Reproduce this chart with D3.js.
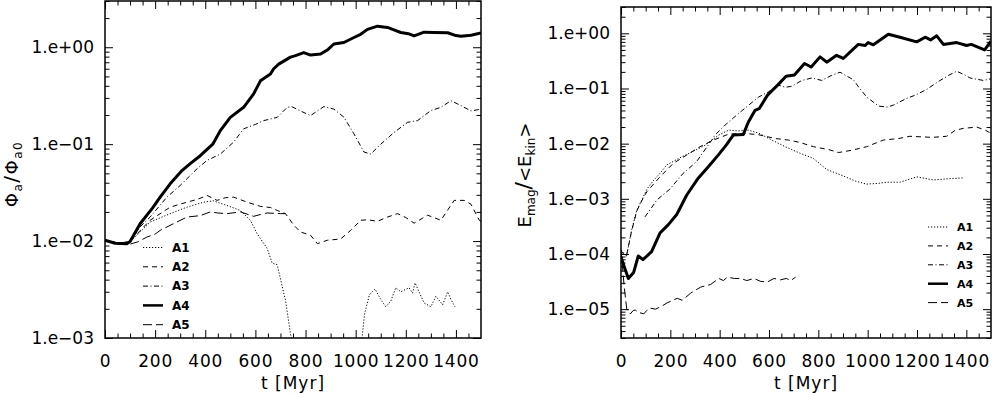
<!DOCTYPE html>
<html>
<head>
<meta charset="utf-8">
<script src="https://cdn.jsdelivr.net/npm/d3@7"></script>
<style>
body { margin: 0; background: #fff; }
svg text { font-family: "DejaVu Sans", sans-serif; fill: #000; }
</style>
</head>
<body>
<svg id="chart" width="992" height="394"></svg>
<script>
// time in Myr
var xTicks = [0, 200, 400, 600, 800, 1000, 1200, 1400];
var leftTicks = [1e-3, 1e-2, 1e-1, 1];
var rightTicks = [1e-5, 1e-4, 1e-3, 1e-2, 1e-1, 1];
var runNames = ["A1", "A2", "A3", "A4", "A5"];

// left panel: Phi_a / Phi_a0
var phiA1 = [[0,0.0102],[60,0.0095],[100,0.0098],[180,0.0157],[260,0.0192],[327,0.0224],[393,0.0252],[433,0.026],
  [487,0.0233],[540,0.0207],[580,0.0164],[607,0.0119],[647,0.0084],[667,0.0059],[687,0.0057],[707,0.0034],
  [720,0.00246],[740,0.0011],[750,0.00085],[900,null],
  [1020,0.0008],[1027,0.0011],[1036,0.0018],[1055,0.0028],[1077,0.0032],[1100,0.0025],[1120,0.0021],[1140,0.0024],
  [1160,0.0033],[1180,0.003],[1213,0.0033],[1227,0.0029],[1237,0.0037],[1255,0.0029],[1273,0.0023],[1300,0.0021],
  [1320,0.0027],[1347,0.0022],[1367,0.003],[1380,0.0025],[1396,0.0021]];
var phiA2 = [[0,0.0102],[60,0.0095],[100,0.0100],[180,0.0164],[260,0.0224],[327,0.0252],[370,0.027],[407,0.0296],
  [447,0.0263],[480,0.028],[513,0.0284],[567,0.0252],[620,0.0228],[660,0.0222],[687,0.0207],[720,0.0192],
  [753,0.0146],[780,0.0124],[820,0.0115],[847,0.0094],[887,0.0102],[940,0.0105],[980,0.0129],[1020,0.0164],
  [1047,0.0166],[1087,0.016],[1127,0.0177],[1167,0.0192],[1200,0.0175],[1233,0.0153],[1287,0.0185],[1340,0.0164],
  [1393,0.0263],[1433,0.0263],[1460,0.024],[1493,0.0164],[1500,0.0160]];
var phiA3 = [[0,0.0102],[40,0.0096],[60,0.0093],[100,0.0098],[140,0.014],[180,0.0177],[247,0.0284],[300,0.0375],
  [367,0.0557],[407,0.068],[460,0.079],[513,0.105],[553,0.144],[600,0.16],[633,0.175],[687,0.189],[727,0.24],
  [745,0.244],[780,0.22],[820,0.197],[873,0.244],[913,0.23],[953,0.19],[993,0.128],[1033,0.083],[1060,0.079],
  [1100,0.1],[1153,0.132],[1207,0.168],[1247,0.175],[1300,0.222],[1340,0.24],[1380,0.281],[1420,0.25],
  [1460,0.22],[1500,0.23]];
var phiA4 = [[0,0.0102],[40,0.0095],[87,0.0094],[100,0.0099],[140,0.0151],[190,0.022],[220,0.0284],[260,0.039],
  [307,0.0534],[340,0.063],[380,0.076],[430,0.1],[460,0.138],[500,0.189],[553,0.24],[593,0.33],[620,0.45],
  [660,0.53],[673,0.6],[693,0.67],[740,0.79],[760,0.82],[793,0.88],[820,0.83],[860,0.85],[890,0.95],[913,1.08],
  [953,1.12],[993,1.26],[1020,1.36],[1047,1.53],[1087,1.65],[1127,1.6],[1150,1.52],[1180,1.42],[1210,1.38],
  [1233,1.31],[1273,1.43],[1313,1.42],[1367,1.41],[1400,1.32],[1420,1.3],[1460,1.33],[1500,1.40]];
var phiA5 = [[0,0.0102],[30,0.0098],[60,0.0092],[100,0.0093],[130,0.0098],[167,0.011],[200,0.0118],[220,0.0129],
  [273,0.0151],[327,0.0177],[380,0.0183],[420,0.020],[450,0.0195],[487,0.0192],[540,0.020],[593,0.018],
  [620,0.0188],[647,0.0195],[700,0.0192],[720,0.0192]];

// right panel: E_mag / <E_kin>
var emA1 = [[0,1.2e-4],[10,1.05e-4],[22,9e-5],[43,2.7e-4],[64,6.2e-4],[84,9.5e-4],[105,1.5e-3],[130,2.1e-3],
  [158,2.9e-3],[185,4.1e-3],[234,5.4e-3],[288,7.1e-3],[342,9.4e-3],[396,0.0143],[437,0.0176],[477,0.017],
  [518,0.0176],[558,0.0155],[612,0.0116],[666,0.0088],[726,0.0067],[780,0.0054],[834,0.0034],[901,0.0026],
  [950,0.0021],[996,0.00185],[1040,0.0019],[1077,0.0020],[1131,0.0020],[1199,0.0025],[1266,0.0022],
  [1320,0.0023],[1388,0.0024]];
var emA2 = [[0,1.15e-4],[10,1.0e-4],[22,9.2e-5],[43,2.6e-4],[64,6.0e-4],[84,9.2e-4],[105,1.35e-3],[158,2.5e-3],
  [212,4.4e-3],[266,6.2e-3],[320,8.8e-3],[374,0.0116],[437,0.0149],[504,0.0153],[558,0.0145],[625,0.0124],
  [680,0.0116],[726,0.0105],[780,0.0088],[842,0.0078],[882,0.0069],[936,0.0076],[996,0.0088],[1063,0.0116],
  [1126,0.0124],[1171,0.0136],[1262,0.013],[1320,0.0136],[1356,0.0176],[1388,0.0189],[1442,0.020],
  [1477,0.0176],[1500,0.0153]];
var emA3 = [[97,4.7e-4],[120,6.5e-4],[145,9.5e-4],[198,1.5e-3],[252,2.9e-3],[306,4.7e-3],[368,0.0116],
  [381,0.0143],[422,0.0217],[476,0.035],[518,0.05],[558,0.07],[598,0.087],[639,0.115],[666,0.105],[693,0.11],
  [733,0.14],[774,0.155],[814,0.14],[855,0.174],[888,0.197],[942,0.144],[963,0.107],[996,0.07],[1044,0.048],
  [1080,0.046],[1104,0.05],[1158,0.066],[1194,0.076],[1239,0.096],[1288,0.135],[1329,0.174],[1361,0.205],
  [1396,0.174],[1415,0.155],[1469,0.14],[1500,0.15]];
var emA4 = [[0,8.9e-5],[13,5.9e-5],[30,3.6e-5],[51,4.6e-5],[70,9.2e-5],[89,7.9e-5],[124,1.1e-4],[158,2.4e-4],
  [192,3.4e-4],[226,5.2e-4],[266,1.16e-3],[313,2.37e-3],[354,3.8e-3],[394,6.2e-3],[428,9.6e-3],[455,0.0143],
  [496,0.0147],[516,0.0244],[543,0.040],[560,0.043],[594,0.0757],[635,0.115],[669,0.167],[703,0.175],
  [744,0.284],[771,0.245],[807,0.374],[834,0.30],[874,0.40],[901,0.35],[962,0.63],[990,0.6],[1002,0.68],
  [1023,0.62],[1084,0.96],[1131,0.85],[1199,0.70],[1233,0.85],[1255,0.76],[1280,0.90],[1307,0.63],
  [1361,0.68],[1401,0.60],[1420,0.63],[1474,0.50],[1500,0.72]];
var emA5 = [[0,1.2e-4],[6,6e-5],[13,2.5e-5],[24,9.6e-6],[38,8.2e-6],[50,9.5e-6],[58,9.6e-6],[70,8.8e-6],
  [92,8.2e-6],[105,9.5e-6],[119,1.04e-5],[140,1.0e-5],[160,1.1e-5],[187,1.3e-5],[210,1.45e-5],[228,1.57e-5],
  [248,1.45e-5],[282,1.94e-5],[322,2.5e-5],[363,2.8e-5],[397,3.6e-5],[415,3.3e-5],[431,3.8e-5],[460,3.6e-5],
  [485,3.6e-5],[510,3.3e-5],[539,3.6e-5],[565,3.2e-5],[593,3.1e-5],[620,3.6e-5],[647,3.4e-5],[670,3.6e-5],
  [688,3.3e-5],[708,3.8e-5]];

// line styles per run
var styles = [
  { dash: "1.2,1.8", width: 1 },
  { dash: "5,4", width: 1 },
  { dash: "5,2.5,1,2.5", width: 1 },
  { dash: null, width: 3 },
  { dash: "9,4", width: 1 }
];

var svg = d3.select("#chart");

function fmtExp(v) {
  var e = Math.round(Math.log10(v));
  return "1.e" + (e < 0 ? "\u2212" : "+") + String(Math.abs(e)).padStart(2, "0");
}

function drawPanel(p) {
  var w = p.x1 - p.x0, h = p.y1 - p.y0;
  var x = d3.scaleLinear().domain([0, 1500]).range([0, w]);
  var y = d3.scaleLog().domain(p.yDomain).range([h, 0]);
  var g = svg.append("g").attr("transform", `translate(${p.x0},${p.y0})`);

  var clipId = "clip" + p.id;
  g.append("clipPath").attr("id", clipId)
    .append("rect").attr("width", w).attr("height", h);

  var line = d3.line()
    .defined(d => d[1] != null)
    .x(d => x(d[0]))
    .y(d => y(d[1]));

  var plot = g.append("g").attr("clip-path", `url(#${clipId})`);
  p.series.forEach(function(s, i) {
    plot.append("path")
      .datum(s)
      .attr("d", line)
      .attr("fill", "none")
      .attr("stroke", "#000")
      .attr("stroke-width", styles[i].width)
      .attr("stroke-linejoin", "round")
      .attr("stroke-dasharray", styles[i].dash);
  });

  // ticks, IDL style: inward on all four sides
  var yMinor = y.ticks().filter(v => Math.abs(Math.log10(v) - Math.round(Math.log10(v))) > 1e-6);
  var xMinor = d3.range(50, 1500, 50).filter(v => v % 200 !== 0);
  var noDomain = sel => sel.select(".domain").remove();

  g.append("g").call(d3.axisLeft(y).tickValues(p.yTicks).tickSizeInner(-8).tickSizeOuter(0)
      .tickPadding(11).tickFormat(fmtExp)).call(noDomain)
    .selectAll("text").style("font-size", "17px");
  g.append("g").call(d3.axisLeft(y).tickValues(yMinor).tickSizeInner(-4.5).tickSizeOuter(0).tickFormat(""))
    .call(noDomain);
  g.append("g").attr("transform", `translate(${w},0)`)
    .call(d3.axisRight(y).tickValues(p.yTicks).tickSizeInner(-8).tickSizeOuter(0).tickFormat(""))
    .call(noDomain);
  g.append("g").attr("transform", `translate(${w},0)`)
    .call(d3.axisRight(y).tickValues(yMinor).tickSizeInner(-4.5).tickSizeOuter(0).tickFormat(""))
    .call(noDomain);

  g.append("g").attr("transform", `translate(0,${h})`)
    .call(d3.axisBottom(x).tickValues(xTicks).tickSizeInner(-8).tickSizeOuter(0).tickPadding(17)
      .tickFormat(d3.format("d")))
    .call(noDomain)
    .selectAll("text").style("font-size", "17px").style("letter-spacing", "0.8px");
  g.append("g").attr("transform", `translate(0,${h})`)
    .call(d3.axisBottom(x).tickValues(xMinor).tickSizeInner(-4.5).tickSizeOuter(0).tickFormat(""))
    .call(noDomain);
  g.append("g")
    .call(d3.axisTop(x).tickValues(xTicks).tickSizeInner(-8).tickSizeOuter(0).tickFormat(""))
    .call(noDomain);
  g.append("g")
    .call(d3.axisTop(x).tickValues(xMinor).tickSizeInner(-4.5).tickSizeOuter(0).tickFormat(""))
    .call(noDomain);

  g.append("rect")
    .attr("width", w).attr("height", h)
    .attr("fill", "none").attr("stroke", "#000").attr("stroke-width", 1.5);

  // x title
  g.append("text")
    .attr("x", w / 2).attr("y", p.xTitleY - p.y0)
    .attr("text-anchor", "middle")
    .style("font-size", "17px").style("letter-spacing", "1px")
    .text("t [Myr]");

  // legend
  var leg = svg.append("g").attr("transform", `translate(${p.legX},${p.legY})`);
  runNames.forEach(function(name, i) {
    var yy = i * p.legStep;
    leg.append("line")
      .attr("x1", 0).attr("x2", 20).attr("y1", yy).attr("y2", yy)
      .attr("stroke", "#000")
      .attr("stroke-width", styles[i].width === 3 ? 2.5 : 1)
      .attr("stroke-dasharray", styles[i].dash);
    leg.append("text")
      .attr("x", 29).attr("y", yy).attr("dy", "0.36em")
      .style("font-size", p.legFont + "px").style("font-weight", "bold")
      .text(name);
  });

  p.yTitle(svg.append("text")
    .attr("transform", `translate(${p.yTitleX},${p.yTitleY}) rotate(-90)`)
    .attr("text-anchor", "middle"));
}

drawPanel({
  id: "L", x0: 105, x1: 481, y0: 1, y1: 338,
  yDomain: [1e-3, 3], yTicks: leftTicks,
  series: [phiA1, phiA2, phiA3, phiA4, phiA5],
  xTitleY: 389,
  legX: 143, legY: 247.5, legStep: 19.3, legFont: 12,
  yTitleX: 18, yTitleY: 174,
  yTitle: function(t) {
    t.style("font-size", "18px").style("letter-spacing", "1.5px");
    t.append("tspan").text("\u03a6");
    t.append("tspan").attr("dy", 4).style("font-size", "12px").text("a");
    t.append("tspan").attr("dy", -4).style("font-size", "20px").text("/");
    t.append("tspan").text("\u03a6");
    t.append("tspan").attr("dy", 4).style("font-size", "12px").text("a0");
  }
});

drawPanel({
  id: "R", x0: 621, x1: 991, y0: 7, y1: 338,
  yDomain: [3e-6, 3], yTicks: rightTicks,
  series: [emA1, emA2, emA3, emA4, emA5],
  xTitleY: 389,
  legX: 928, legY: 227, legStep: 18.9, legFont: 11,
  yTitleX: 531, yTitleY: 175,
  yTitle: function(t) {
    t.style("font-size", "18px");
    t.append("tspan").text("E");
    t.append("tspan").attr("dy", 4).style("font-size", "12px").text("mag");
    t.append("tspan").attr("dy", -4).style("font-size", "22px").text("/");
    t.append("tspan").text("<E");
    t.append("tspan").attr("dy", 4).style("font-size", "12px").text("kin");
    t.append("tspan").attr("dy", -4).text(">");
  }
});
</script>
</body>
</html>
